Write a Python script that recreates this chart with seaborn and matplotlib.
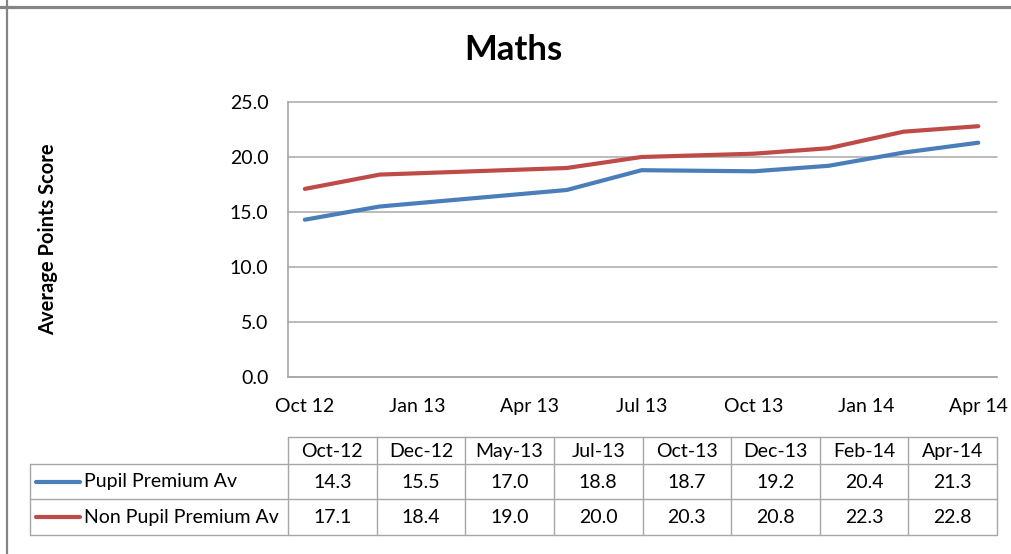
import numpy as np
import pandas as pd
import matplotlib
matplotlib.use("Agg")
import matplotlib.pyplot as plt
import seaborn as sns
from matplotlib.lines import Line2D

# ---------------- data ----------------
periods = ["Oct-12", "Dec-12", "May-13", "Jul-13", "Oct-13", "Dec-13", "Feb-14", "Apr-14"]
pupil_premium = [14.3, 15.5, 17.0, 18.8, 18.7, 19.2, 20.4, 21.3]
non_pupil_premium = [17.1, 18.4, 19.0, 20.0, 20.3, 20.8, 22.3, 22.8]
series_names = ["Pupil Premium Av", "Non Pupil Premium Av"]
axis_tick_labels = ["Oct 12", "Jan 13", "Apr 13", "Jul 13", "Oct 13", "Jan 14", "Apr 14"]
y_ticks = [0, 5, 10, 15, 20, 25]
title = "Maths"
y_label = "Average Points Score"

# ---------------- styling ----------------
W, H = 1011, 554
colors = {series_names[0]: "#4A7EBB", series_names[1]: "#BE4B48"}
grid_col = "#A8A8A8"
table_col = "#A6A6A6"
border_col = "#858585"
text_col = "#000000"

sns.set_theme(style="white")
plt.rcParams["font.family"] = ["Lato", "DejaVu Sans"]

# month index on an Excel-like date axis (base unit: months)
dates = pd.to_datetime(periods, format="%b-%y")
start = dates[0]
month_idx = (dates.year - start.year) * 12 + (dates.month - start.month)
tick_dates = pd.to_datetime(axis_tick_labels, format="%b %y")
tick_idx = (tick_dates.year - start.year) * 12 + (tick_dates.month - start.month)

df = pd.DataFrame({
    "month": list(month_idx) * 2,
    "score": pupil_premium + non_pupil_premium,
    "series": [series_names[0]] * len(periods) + [series_names[1]] * len(periods),
})

fig = plt.figure(figsize=(W / 100, H / 100), dpi=100)
fig.patch.set_facecolor("white")

# plot area in pixels
L, R, T, B = 288, 997, 102, 377
ax = fig.add_axes([L / W, 1 - B / H, (R - L) / W, (B - T) / H])
sns.lineplot(data=df, x="month", y="score", hue="series", palette=colors,
             linewidth=3.0, legend=False, sort=False, ax=ax,
             solid_capstyle="round")
ax.set_xlim(month_idx[0] - 0.45, month_idx[-1] + 0.5)
ax.set_ylim(y_ticks[0], y_ticks[-1])
ax.set_yticks(y_ticks)
ax.set_yticklabels([f"{v:.1f}" for v in y_ticks])
ax.set_xticks(list(tick_idx))
ax.set_xticklabels(axis_tick_labels)
ax.set_xlabel("")
ax.set_ylabel("")
ax.tick_params(axis="both", length=0, labelsize=14, colors=text_col)
ax.tick_params(axis="x", pad=15)
ax.tick_params(axis="y", pad=14)
ax.yaxis.grid(True, color=grid_col, linewidth=1.1)
ax.xaxis.grid(False)
for gl in ax.get_ygridlines():
    gl.set_clip_on(False)
for s in ["top", "right"]:
    ax.spines[s].set_visible(False)
ax.spines["left"].set_color("#A0A0A0")
ax.spines["left"].set_linewidth(1.1)
ax.spines["bottom"].set_color(grid_col)
ax.spines["bottom"].set_linewidth(1.1)
ax.set_facecolor("none")

# overlay in pixel coordinates for title, table and frame
ov = fig.add_axes([0, 0, 1, 1], zorder=-1)
ov.set_xlim(0, W)
ov.set_ylim(H, 0)
ov.axis("off")

# outer frame (top and left edges visible)
ov.add_line(Line2D([0, W], [6.5, 6.5], color=border_col, lw=2.3))
ov.add_line(Line2D([7, 7], [0, H], color=border_col, lw=1.6))

fig.text(513 / W, 1 - 50 / H, title, ha="center", va="center",
         fontsize=25, fontweight="bold", color=text_col)
fig.text(48 / W, 1 - 239 / H, y_label, ha="center", va="center",
         rotation=90, fontsize=14.5, fontweight="bold", color=text_col)

# data table
t_top, t_hdr, t_r1, t_bot = 437, 464, 499, 535
lab_left = 30
n = len(periods)
col_edges = np.linspace(L, R, n + 1)
lw_t = 1.0
ov.add_line(Line2D([L, R], [t_top, t_top], color=table_col, lw=lw_t))
for yy in (t_hdr, t_r1, t_bot):
    ov.add_line(Line2D([lab_left, R], [yy, yy], color=table_col, lw=lw_t))
ov.add_line(Line2D([lab_left, lab_left], [t_hdr, t_bot], color=table_col, lw=lw_t))
for xe in col_edges:
    ov.add_line(Line2D([xe, xe], [t_top, t_bot], color=table_col, lw=lw_t))

centers = (col_edges[:-1] + col_edges[1:]) / 2
row_y = [(t_hdr + t_r1) / 2, (t_r1 + t_bot) / 2]
for cx, p in zip(centers, periods):
    ov.text(cx, (t_top + t_hdr) / 2 + 1, p, ha="center", va="center",
            fontsize=14, color=text_col)
for name, vals, ry in zip(series_names, [pupil_premium, non_pupil_premium], row_y):
    ov.add_line(Line2D([36, 80], [ry, ry], color=colors[name], lw=3.0,
                       solid_capstyle="round"))
    ov.text(84, ry + 0.5, name, ha="left", va="center", fontsize=14, color=text_col)
    for cx, v in zip(centers, vals):
        ov.text(cx, ry + 0.5, f"{v:.1f}", ha="center", va="center",
                fontsize=14, color=text_col)

fig.savefig("out.png", dpi=100, facecolor="white")
